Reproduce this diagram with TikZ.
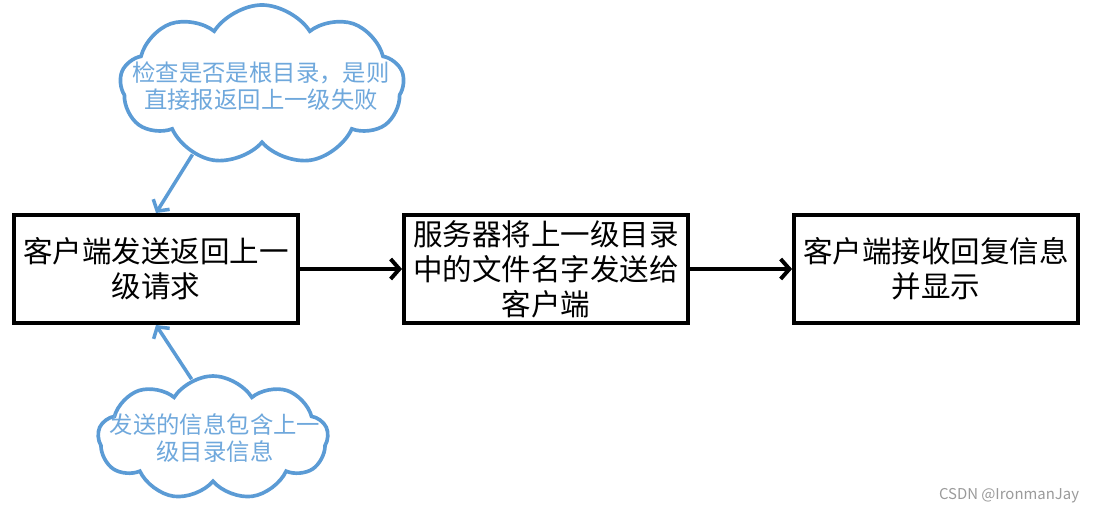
\documentclass[tikz,border=0pt]{standalone}
\usepackage{fontspec}
\usepackage{xcolor}
\usepackage{tikz}
\usetikzlibrary{positioning, arrows.meta, shapes.symbols}
\newfontfamily\cjk{Noto Sans CJK SC}
\definecolor{cloudblue}{HTML}{5B9BD5}
\definecolor{cloudtext}{HTML}{6FA8DC}
\definecolor{markgray}{HTML}{9A9A9A}

\begin{document}
\begin{tikzpicture}[x=0.025cm, y=-0.025cm,
    stepbox/.style={draw=black, line width=2.8pt, minimum width=7.1cm, minimum height=2.7cm,
      align=center, inner sep=0pt, font=\cjk\fontsize{21pt}{24.8pt}\selectfont},
    bubble/.style={cloud, cloud puffs=9, cloud puff arc=115, draw=cloudblue, line width=2.6pt, fill=white},
    bubbletext/.style={align=center, text=cloudtext, inner sep=0pt, font=\cjk\fontsize{16.6pt}{19.8pt}\selectfont},
    flow/.style={line width=2.8pt, -{Straight Barb[length=0.22cm, width=0.5cm]}},
    note/.style={line width=2.5pt, cloudblue, -{Straight Barb[length=0.2cm, width=0.48cm]}}]
  \useasboundingbox (0,0) rectangle (1095,513);
  \node[stepbox] (req) at (156,269) {客户端发送返回上一\\级请求};
  \node[stepbox, right=2.55cm of req] (send) {服务器将上一级目录\\中的文件名字发送给\\客户端};
  \node[stepbox, right=2.55cm of send] (show) {客户端接收回复信息\\并显示};
  \draw[flow] (req) -- (send);
  \draw[flow] (send) -- (show);

  \node[bubble, minimum width=7.1cm, minimum height=4cm] (chkcloud) at (262,85) {};
  \node[bubbletext] (chk) at (261,86) {检查是否是根目录，是则\\直接报返回上一级失败};
  \node[bubble, minimum width=5.75cm, minimum height=3.1cm] (fwdcloud) at (213,438) {};
  \node[bubbletext] (fwd) at (215,438) {发送的信息包含上一\\级目录信息};
  \draw[note] (chkcloud.225) -- (req.north);
  \draw[note] (fwdcloud.110) -- (req.south);

  \node[text=markgray, font=\cjk\fontsize{10.6pt}{12pt}\selectfont] (mark) at (1009,496) {CSDN @IronmanJay};
\end{tikzpicture}
\end{document}
